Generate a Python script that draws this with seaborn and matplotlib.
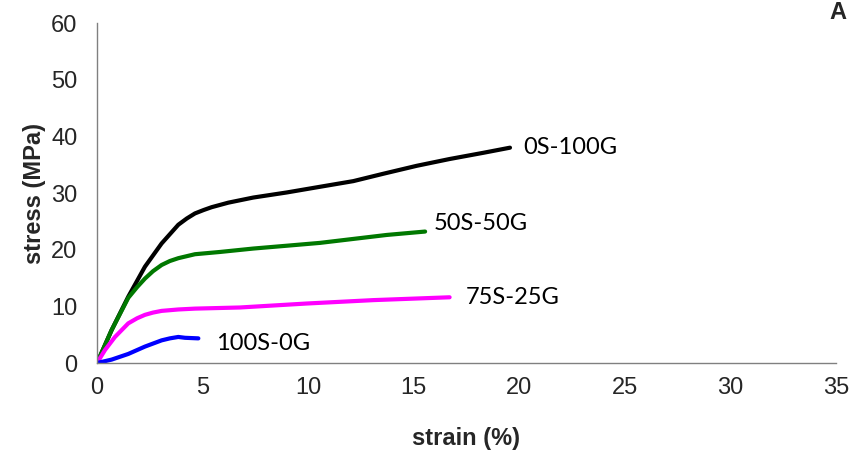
import matplotlib
matplotlib.use("Agg")
import matplotlib.pyplot as plt
import seaborn as sns
import pandas as pd

# data
s_0S100G = [0, 0.69, 1.48, 2.27, 3.06, 3.85, 4.25, 4.64, 5.05, 5.43, 6.22, 7.4, 8.99, 10.56, 12.14, 13.56, 15.14, 16.7, 18.3, 19.56]
y_0S100G = [0, 5.8, 11.7, 17.0, 21.1, 24.4, 25.5, 26.4, 27.0, 27.5, 28.3, 29.2, 30.1, 31.1, 32.1, 33.4, 34.8, 36.0, 37.1, 38.0]

s_50S50G = [0, 0.69, 1.48, 1.9, 2.27, 2.65, 3.06, 3.45, 3.85, 4.64, 5.83, 7.4, 8.99, 10.56, 12.14, 13.72, 15.54]
y_50S50G = [0, 5.8, 11.5, 13.4, 14.9, 16.2, 17.3, 18.0, 18.5, 19.2, 19.6, 20.2, 20.7, 21.2, 21.9, 22.6, 23.2]

s_75S25G = [0, 0.38, 0.85, 1.48, 1.9, 2.27, 2.65, 3.06, 3.85, 4.64, 6.77, 9.93, 13.09, 16.7]
y_75S25G = [0, 2.3, 4.6, 7.0, 7.9, 8.5, 8.9, 9.2, 9.45, 9.6, 9.8, 10.5, 11.1, 11.6]

s_100S0G = [0, 0.69, 1.48, 2.27, 3.06, 3.45, 3.85, 4.17, 4.8]
y_100S0G = [0, 0.6, 1.6, 2.9, 4.0, 4.35, 4.6, 4.45, 4.35]

labels = ["0S-100G", "50S-50G", "75S-25G", "100S-0G"]
colors = ["#000000", "#007800", "#ff00ff", "#0000ff"]
label_pos = [(20.2, 38.0), (15.95, 24.7), (17.45, 11.5), (5.65, 3.5)]

xticks = [0, 5, 10, 15, 20, 25, 30, 35]
yticks = [0, 10, 20, 30, 40, 50, 60]

frames = []
for name, s, y in [(labels[0], s_0S100G, y_0S100G), (labels[1], s_50S50G, y_50S50G),
                   (labels[2], s_75S25G, y_75S25G), (labels[3], s_100S0G, y_100S0G)]:
    frames.append(pd.DataFrame({"strain": s, "stress": y, "sample": name}))
df = pd.concat(frames, ignore_index=True)

sns.set_style("white")
plt.rcParams['font.family'] = ['Liberation Sans', 'DejaVu Sans']

fig = plt.figure(figsize=(8.54, 4.54), dpi=100)
ax = fig.add_axes([0.1136, 0.2004, 0.9789 - 0.1136, 0.9493 - 0.2004])

sns.lineplot(data=df, x="strain", y="stress", hue="sample", palette=dict(zip(labels, colors)),
             hue_order=labels, linewidth=3.0, ax=ax, legend=False, sort=False, estimator=None)
for line in ax.get_lines():
    line.set_solid_capstyle('round')
    line.set_solid_joinstyle('round')

for lab, (lx, ly) in zip(labels, label_pos):
    ax.text(lx, ly, lab, fontsize=17, family=['Lato', 'DejaVu Sans'], va='center', ha='left', color='black')

ax.set_xlim(0, 35)
ax.set_ylim(0, 60)
ax.set_xticks(xticks)
ax.set_yticks(yticks)
ax.tick_params(axis='both', labelsize=17, direction='out', length=6, width=1, color='#808080')
ax.tick_params(axis='y', pad=8)
ax.tick_params(axis='x', pad=4)
for sp in ['top', 'right']:
    ax.spines[sp].set_visible(False)
for sp in ['left', 'bottom']:
    ax.spines[sp].set_color('#808080')
    ax.spines[sp].set_linewidth(1)

ax.set_xlabel("strain (%)", fontsize=17, fontweight='bold', labelpad=20)
ax.set_ylabel("stress (MPa)", fontsize=17, fontweight='bold', labelpad=4)

fig.text(0.981, 0.972, "A", fontsize=17, fontweight='bold', ha='center', va='center')

fig.savefig("out.png", dpi=100)
